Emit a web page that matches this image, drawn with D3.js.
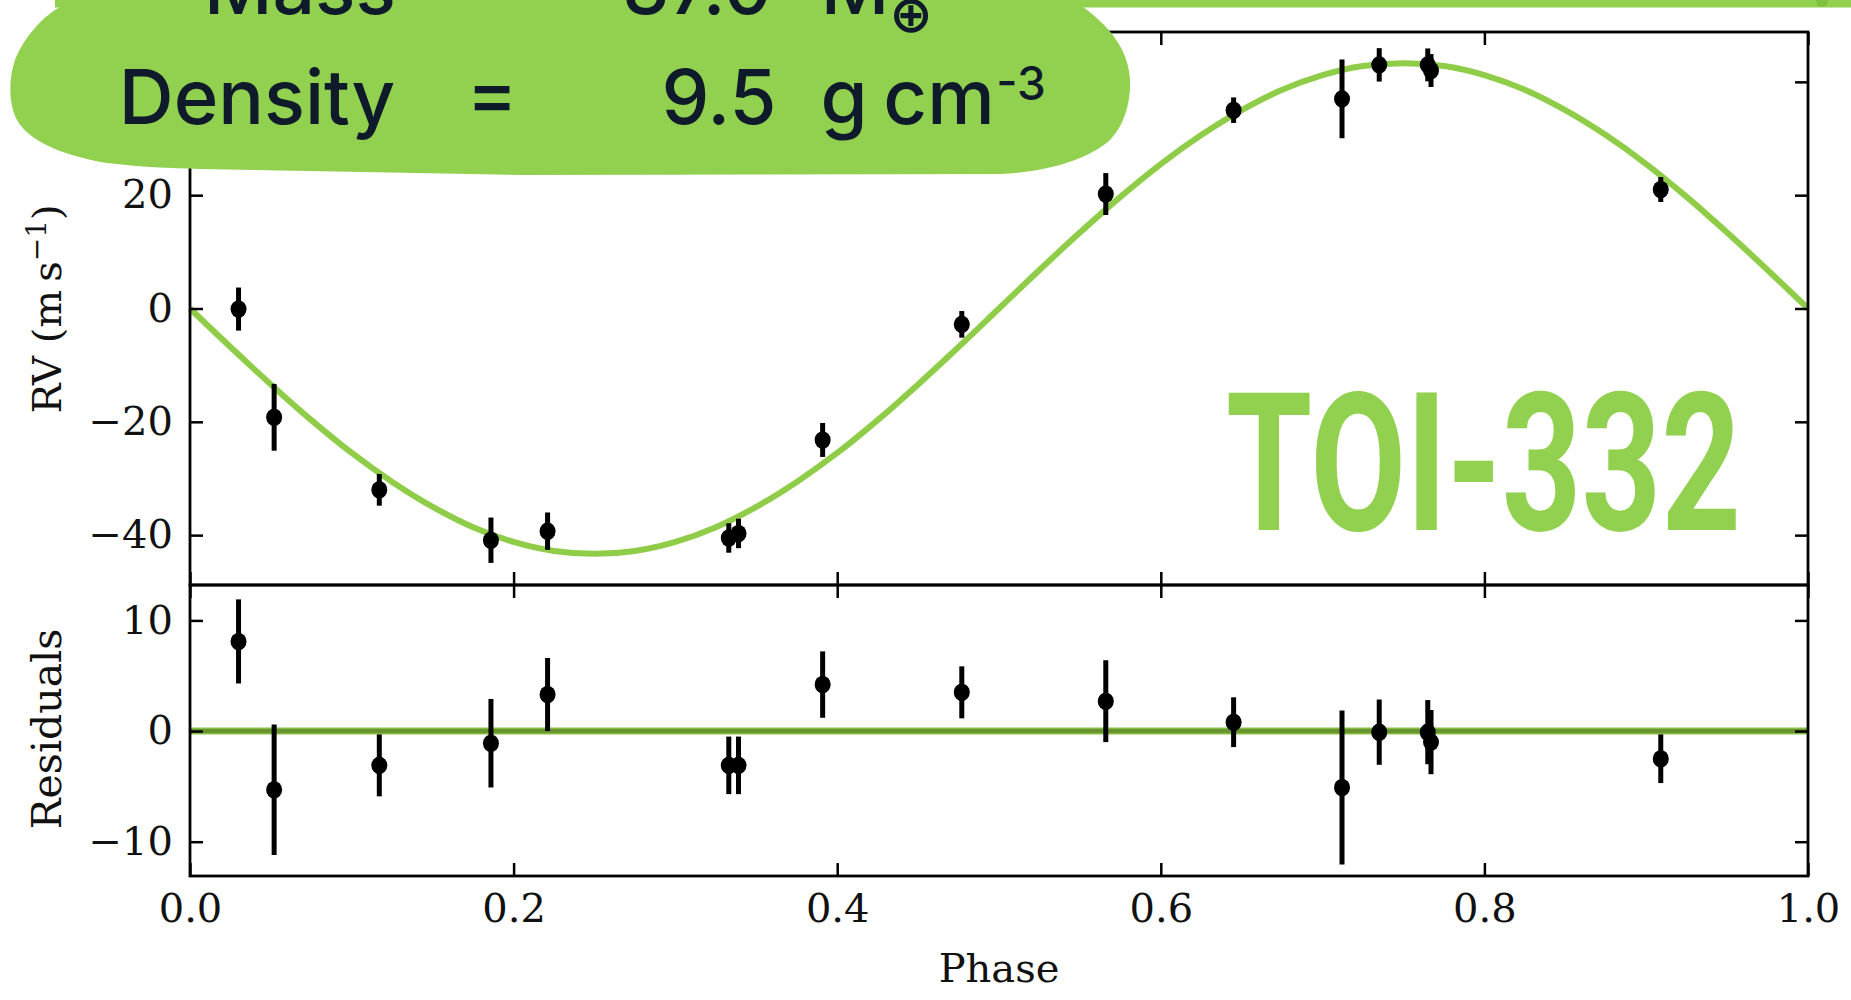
<!DOCTYPE html>
<html>
<head>
<meta charset="utf-8">
<script src="https://cdn.jsdelivr.net/npm/d3@7"></script>
<style>
  html, body { margin: 0; padding: 0; background: #ffffff; }
  svg { display: block; }
</style>
</head>
<body>
<script>
// ---------------- DATA ----------------
const phase    = [0.030, 0.052, 0.117, 0.186, 0.221, 0.333, 0.339, 0.391, 0.477, 0.566, 0.645, 0.712, 0.735, 0.765, 0.767, 0.909];
const rv       = [-0.1, -19.2, -32.0, -40.9, -39.3, -40.5, -39.7, -23.2, -2.8, 20.2, 35.0, 37.0, 43.0, 43.0, 42.0, 21.0];
const rvErr    = [3.8, 5.9, 2.8, 4.0, 3.3, 2.6, 2.6, 3.0, 2.35, 3.7, 2.25, 6.95, 2.95, 2.9, 2.9, 2.2];
const residual = [8.1, -5.3, -3.1, -1.1, 3.3, -3.1, -3.1, 4.2, 3.5, 2.7, 0.8, -5.1, -0.1, -0.1, -1.0, -2.5];

const modelPhase = [0, 0.025, 0.05, 0.075, 0.1, 0.125, 0.15, 0.175, 0.2, 0.225, 0.25, 0.275, 0.3, 0.325, 0.35, 0.375, 0.4, 0.425, 0.45, 0.475, 0.5,
                    0.525, 0.55, 0.575, 0.6, 0.625, 0.65, 0.675, 0.7, 0.725, 0.75, 0.775, 0.8, 0.825, 0.85, 0.875, 0.9, 0.925, 0.95, 0.975, 1.0];
const modelRV    = [0, -6.8, -13.4, -19.7, -25.5, -30.6, -35.0, -38.6, -41.2, -42.8, -43.3, -42.8, -41.2, -38.6, -35.0, -30.6, -25.5, -19.7, -13.4, -6.8, 0,
                    6.8, 13.4, 19.7, 25.5, 30.6, 35.0, 38.6, 41.2, 42.8, 43.3, 42.8, 41.2, 38.6, 35.0, 30.6, 25.5, 19.7, 13.4, 6.8, 0];

const xTicks     = [0, 0.2, 0.4, 0.6, 0.8, 1.0];
const rvTicks    = [-40, -20, 0, 20, 40];
const residTicks = [-10, 0, 10];

const massLabel    = "Mass";
const massValue    = "37.0";
const densityLabel = "Density";
const densityValue = "9.5";
const targetName   = "TOI-332";

// ---------------- LAYOUT ----------------
const W = 1851, H = 1000;
const green = "#92d050";
const dark = "#0f1b2a";
const serif = "'DejaVu Serif', serif";

const svg = d3.select("body").append("svg").attr("width", W).attr("height", H);

const x    = d3.scaleLinear().domain([0, 1]).range([190, 1808]);
const yTop = d3.scaleLinear().domain([-48.8, 48.8]).range([585, 32]);
const yRes = d3.scaleLinear().domain([-13.1, 13.2]).range([876, 585]);

const chart = svg.append("g");

// model curve
chart.append("path")
  .datum(modelPhase.map((p, i) => [p, modelRV[i]]))
  .attr("d", d3.line().x(d => x(d[0])).y(d => yTop(d[1])).curve(d3.curveCatmullRom))
  .attr("fill", "none").attr("stroke", "#8fcc48").attr("stroke-width", 6);

// residual zero line
chart.append("line")
  .attr("x1", x(0)).attr("x2", x(1)).attr("y1", yRes(0)).attr("y2", yRes(0))
  .attr("stroke", "#86bd45").attr("stroke-width", 7);
chart.append("line")
  .attr("x1", x(0)).attr("x2", x(1)).attr("y1", yRes(0)).attr("y2", yRes(0))
  .attr("stroke", "#6a9430").attr("stroke-width", 4);

// data points with error bars
const idx = d3.range(phase.length);
function drawPoints(vals, yScale) {
  const g = chart.append("g");
  g.selectAll("line.err").data(idx).join("line")
    .attr("x1", i => x(phase[i])).attr("x2", i => x(phase[i]))
    .attr("y1", i => yScale(vals[i] - rvErr[i])).attr("y2", i => yScale(vals[i] + rvErr[i]))
    .attr("stroke", "#000").attr("stroke-width", 5);
  g.selectAll("ellipse").data(idx).join("ellipse")
    .attr("cx", i => x(phase[i])).attr("cy", i => yScale(vals[i])).attr("rx", 8).attr("ry", 8.8)
    .attr("fill", "#000");
}
drawPoints(rv, yTop);
drawPoints(residual, yRes);

// axes
function styleAxis(g) {
  g.select(".domain").remove();
  g.selectAll(".tick line").attr("stroke", "#000").attr("stroke-width", 2.5);
  g.selectAll(".tick text").attr("font-family", serif).attr("font-size", 40).attr("fill", "#111");
}
const fmtX = d3.format(".1f");
chart.append("g").attr("transform", "translate(190,0)")
  .call(d3.axisLeft(yTop).tickValues(rvTicks).tickSize(-13).tickPadding(17)).call(styleAxis);
chart.append("g").attr("transform", "translate(1808,0)")
  .call(d3.axisRight(yTop).tickValues(rvTicks).tickSize(-13).tickFormat("")).call(styleAxis);
chart.append("g").attr("transform", "translate(0,32)")
  .call(d3.axisTop(x).tickValues(xTicks).tickSize(-13).tickFormat("")).call(styleAxis);
chart.append("g").attr("transform", "translate(0,585)")
  .call(d3.axisBottom(x).tickValues(xTicks).tickSize(-13).tickFormat("")).call(styleAxis);

chart.append("g").attr("transform", "translate(190,0)")
  .call(d3.axisLeft(yRes).tickValues(residTicks).tickSize(-13).tickPadding(17)).call(styleAxis);
chart.append("g").attr("transform", "translate(1808,0)")
  .call(d3.axisRight(yRes).tickValues(residTicks).tickSize(-13).tickFormat("")).call(styleAxis);
chart.append("g").attr("transform", "translate(0,585)")
  .call(d3.axisTop(x).tickValues(xTicks).tickSize(-13).tickFormat("")).call(styleAxis);
chart.append("g").attr("transform", "translate(0,876)")
  .call(d3.axisBottom(x).tickValues(xTicks).tickSize(-13).tickPadding(18).tickFormat(fmtX)).call(styleAxis);

// frames
chart.append("rect").attr("x", 190).attr("y", 32).attr("width", 1618).attr("height", 553)
  .attr("fill", "none").attr("stroke", "#000").attr("stroke-width", 2.8);
chart.append("rect").attr("x", 190).attr("y", 585).attr("width", 1618).attr("height", 291)
  .attr("fill", "none").attr("stroke", "#000").attr("stroke-width", 2.8);

// axis labels
chart.append("text").attr("x", 999).attr("y", 982).attr("text-anchor", "middle")
  .attr("font-family", serif).attr("font-size", 40).attr("fill", "#111").text("Phase");

chart.append("text").attr("transform", "translate(61,729) rotate(-90)").attr("text-anchor", "middle")
  .attr("font-family", serif).attr("font-size", 41).attr("fill", "#111").text("Residuals");

const rvLab = chart.append("text").attr("transform", "translate(61,309) rotate(-90)").attr("text-anchor", "middle")
  .attr("font-family", serif).attr("font-size", 40).attr("fill", "#111");
rvLab.append("tspan").text("RV (m\u2009s");
rvLab.append("tspan").attr("font-size", 28).attr("dy", -15).text("\u22121");
rvLab.append("tspan").attr("dy", 15).text(")");

// ---------------- OVERLAYS ----------------
// top band + dot
svg.append("rect").attr("x", 55).attr("y", 0).attr("width", W - 55).attr("height", 7.5).attr("fill", green);
svg.append("circle").attr("cx", 1822).attr("cy", 1).attr("r", 6).attr("fill", "#7fc23f");

// blob
svg.append("path")
  .attr("d", "M 60 7 C 45 15, 25 35, 15 60 C 8 80, 9 105, 17 120 C 28 140, 60 155, 107 163 " +
             "C 140 167, 170 168, 200 169 L 520 175 L 1000 174 C 1050 172, 1090 158, 1110 140 " +
             "C 1125 125, 1131 100, 1130 80 C 1129 55, 1115 30, 1083 7 Z")
  .attr("fill", green);

const sans = "Inter, 'Noto Sans', sans-serif";
function blobText(txt, xx, yy, size, anchor) {
  return svg.append("text").attr("x", xx).attr("y", yy).attr("text-anchor", anchor || "middle")
    .attr("font-family", sans).attr("font-weight", 500).attr("font-size", size).attr("fill", dark).text(txt);
}
// Mass row (cut off at the top edge, as in the reference)
blobText(massLabel, 300, 14, 75);
blobText(massValue, 697, 14, 75);
blobText("M", 855, 14, 75);
svg.append("text").attr("x", 911).attr("y", 32).attr("text-anchor", "middle")
  .attr("font-family", "'DejaVu Sans', sans-serif").attr("font-weight", "bold").attr("font-size", 52)
  .attr("fill", dark).text("\u2295");
// Density row
blobText(densityLabel, 257, 124, 76);
blobText("=", 492, 120, 76);
blobText(densityValue, 719, 124, 76);
blobText("g", 844, 124, 76);
blobText("cm", 939, 124, 76);
blobText("-3", 1021, 100, 46);

// target name
svg.append("text").attr("x", 1226).attr("y", 530)
  .attr("font-family", "Roboto, 'Liberation Sans', sans-serif").attr("font-weight", 700)
  .attr("font-size", 193).attr("fill", green)
  .attr("textLength", 515).attr("lengthAdjust", "spacingAndGlyphs")
  .text(targetName);
</script>
</body>
</html>
